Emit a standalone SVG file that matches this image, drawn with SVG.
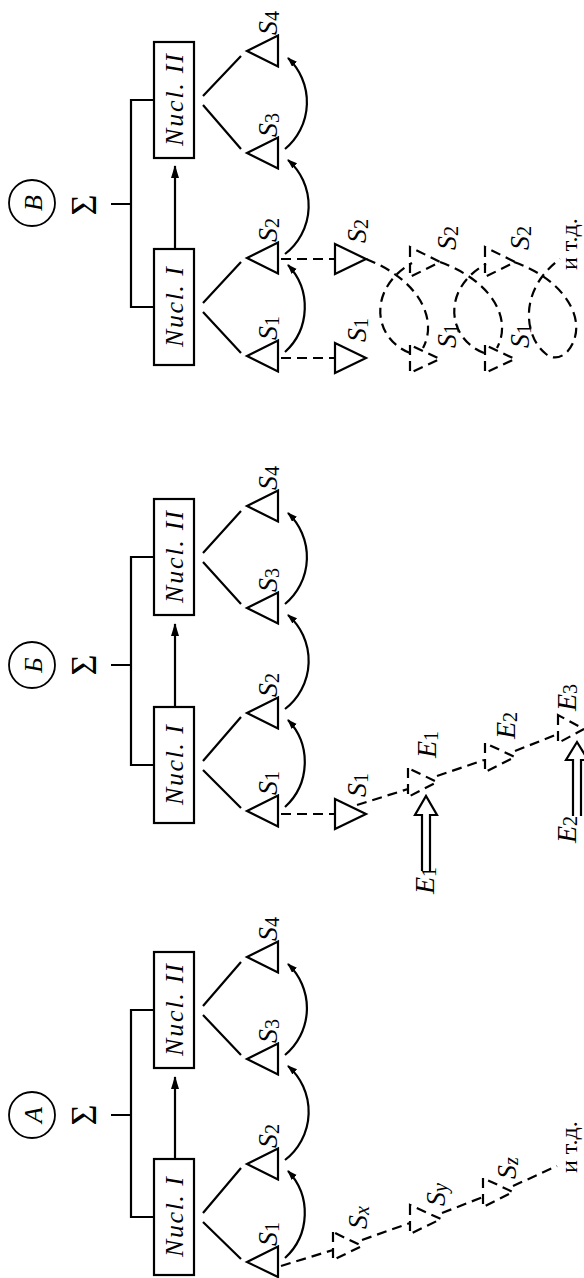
<svg xmlns="http://www.w3.org/2000/svg" width="584" height="1278" viewBox="0 0 584 1278">
<style>
.s{fill:none;stroke:#000;stroke-width:2.2}
.d{fill:none;stroke:#000;stroke-width:2.2;stroke-dasharray:10 6}
.c{fill:none;stroke:#000;stroke-width:1.8}
.it{font-family:"Liberation Serif","Times New Roman",serif;font-style:italic;fill:#000}
.lb{font-size:28px}
.sb{font-size:20px;font-style:normal}
.sbi{font-size:20px;font-style:italic}
.nu{font-size:26px;text-anchor:middle}
.cl{font-size:26px;text-anchor:middle}
.sg{font-family:"Liberation Serif","Times New Roman",serif;font-size:36px;text-anchor:middle;fill:#000}
.etc{font-family:"Liberation Serif","Times New Roman",serif;font-size:24px;fill:#000}
.ar{fill:none;stroke:#000;stroke-width:2.2;marker-end:url(#ca)}
.ab{fill:none;stroke:#000;stroke-width:2.2;marker-end:url(#ah)}
</style>
<defs>
<marker id="ah" markerUnits="userSpaceOnUse" markerWidth="14" markerHeight="10" refX="12" refY="4" orient="auto"><path d="M0,0 L13,4 L0,8 z" fill="#000"/></marker>
<marker id="ca" markerUnits="userSpaceOnUse" markerWidth="12" markerHeight="8" refX="9" refY="3.5" orient="auto"><path d="M0,0 L10,3.5 L0,7 z" fill="#000"/></marker>
</defs>

<!-- ===== Panel В (top) ===== -->
<g id="B-label"><circle cx="32" cy="203" r="23" class="c"/><text class="it cl" transform="translate(42,203) rotate(-90)">В</text></g>
<g id="B-sigma"><text class="sg" transform="translate(96,205) rotate(-90)">Σ</text></g>
<g id="B-nucl2"><rect x="154" y="42" width="40" height="116" class="s"/><text class="it nu" transform="translate(183,100) rotate(-90)" textLength="92" lengthAdjust="spacing">Nucl. II</text></g>
<g id="B-nucl1"><rect x="154" y="249" width="40" height="116" class="s"/><text class="it nu" transform="translate(183,307) rotate(-90)" textLength="80" lengthAdjust="spacing">Nucl. I</text></g>
<g id="B-s4"><polygon points="247,51 278,35.5 278,66.5" class="s"/><text class="it lb" transform="translate(277,35) rotate(-90)">S<tspan class="sb" dy="2">4</tspan></text></g>
<g id="B-s3"><polygon points="247,153 278,137.5 278,168.5" class="s"/><text class="it lb" transform="translate(277,137) rotate(-90)">S<tspan class="sb" dy="2">3</tspan></text></g>
<g id="B-s2"><polygon points="247,258 278,242.5 278,273.5" class="s"/><text class="it lb" transform="translate(277,242) rotate(-90)">S<tspan class="sb" dy="2">2</tspan></text></g>
<g id="B-s1"><polygon points="247,356 278,340.5 278,371.5" class="s"/><text class="it lb" transform="translate(277,340) rotate(-90)">S<tspan class="sb" dy="2">1</tspan></text></g>
<g id="B-s2b"><polygon points="335,244 335,274 366,259" class="s"/><text class="it lb" transform="translate(366,243) rotate(-90)">S<tspan class="sb" dy="2">2</tspan></text></g>
<g id="B-s1b"><polygon points="335,343 335,373 366,358" class="s"/><text class="it lb" transform="translate(366,342) rotate(-90)">S<tspan class="sb" dy="2">1</tspan></text></g>
<g id="B-s2c"><polygon points="410,247 410,277 440,262" class="d"/><text class="it lb" transform="translate(456,250) rotate(-90)">S<tspan class="sb" dy="2">2</tspan></text></g>
<g id="B-s1c"><polygon points="410,345 410,373 440,359" class="d"/><text class="it lb" transform="translate(456,348) rotate(-90)">S<tspan class="sb" dy="2">1</tspan></text></g>
<g id="B-s2d"><polygon points="485,247 485,277 515,262" class="d"/><text class="it lb" transform="translate(529,250) rotate(-90)">S<tspan class="sb" dy="2">2</tspan></text></g>
<g id="B-s1d"><polygon points="485,345 485,373 515,359" class="d"/><text class="it lb" transform="translate(529,348) rotate(-90)">S<tspan class="sb" dy="2">1</tspan></text></g>
<g id="B-etc"><text class="etc" transform="translate(577,270) rotate(-90)">и т.д.</text></g>

<!-- ===== Panel Б (middle) ===== -->
<g id="V-label"><circle cx="32" cy="665" r="23" class="c"/><text class="it cl" transform="translate(42,665) rotate(-90)">Б</text></g>
<g id="V-sigma"><text class="sg" transform="translate(96,665) rotate(-90)">Σ</text></g>
<g id="V-nucl2"><rect x="154" y="499" width="40" height="116" class="s"/><text class="it nu" transform="translate(183,557) rotate(-90)" textLength="92" lengthAdjust="spacing">Nucl. II</text></g>
<g id="V-nucl1"><rect x="154" y="707" width="40" height="116" class="s"/><text class="it nu" transform="translate(183,765) rotate(-90)" textLength="80" lengthAdjust="spacing">Nucl. I</text></g>
<g id="V-s4"><polygon points="247,506 278,490.5 278,521.5" class="s"/><text class="it lb" transform="translate(277,490) rotate(-90)">S<tspan class="sb" dy="2">4</tspan></text></g>
<g id="V-s3"><polygon points="247,608 278,592.5 278,623.5" class="s"/><text class="it lb" transform="translate(277,592) rotate(-90)">S<tspan class="sb" dy="2">3</tspan></text></g>
<g id="V-s2"><polygon points="247,713 278,697.5 278,728.5" class="s"/><text class="it lb" transform="translate(277,697) rotate(-90)">S<tspan class="sb" dy="2">2</tspan></text></g>
<g id="V-s1"><polygon points="247,811 278,795.5 278,826.5" class="s"/><text class="it lb" transform="translate(277,795) rotate(-90)">S<tspan class="sb" dy="2">1</tspan></text></g>
<g id="V-s1b"><polygon points="335,799 335,829 366,814" class="s"/><text class="it lb" transform="translate(366,797) rotate(-90)">S<tspan class="sb" dy="2">1</tspan></text></g>
<g id="V-e1"><polygon points="408,768 408,797 437,782" class="d"/><text class="it lb" transform="translate(436,758) rotate(-90)">E<tspan class="sb" dy="2">1</tspan></text></g>
<g id="V-e2"><polygon points="485,743 485,772 515,757" class="d"/><text class="it lb" transform="translate(515,739) rotate(-90)">E<tspan class="sb" dy="2">2</tspan></text></g>
<g id="V-e3"><polygon points="558,715 558,743 584,729" class="d"/><text class="it lb" transform="translate(576,711) rotate(-90)">E<tspan class="sb" dy="1">3</tspan></text></g>
<g id="V-in1"><text class="it lb" transform="translate(434,894) rotate(-90)">E<tspan class="sb" dy="2">1</tspan></text></g>
<g id="V-in2"><text class="it lb" transform="translate(576,843) rotate(-90)">E<tspan class="sb" dy="1">2</tspan></text></g>

<!-- ===== Panel А (bottom) ===== -->
<g id="A-label"><circle cx="32" cy="1115" r="23" class="c"/><text class="it cl" transform="translate(42,1115) rotate(-90)">А</text></g>
<g id="A-sigma"><text class="sg" transform="translate(96,1115) rotate(-90)">Σ</text></g>
<g id="A-nucl2"><rect x="154" y="952" width="40" height="116" class="s"/><text class="it nu" transform="translate(183,1010) rotate(-90)" textLength="92" lengthAdjust="spacing">Nucl. II</text></g>
<g id="A-nucl1"><rect x="154" y="1159" width="40" height="116" class="s"/><text class="it nu" transform="translate(183,1217) rotate(-90)" textLength="80" lengthAdjust="spacing">Nucl. I</text></g>
<g id="A-s4"><polygon points="247,957 278,941.5 278,972.5" class="s"/><text class="it lb" transform="translate(277,941) rotate(-90)">S<tspan class="sb" dy="2">4</tspan></text></g>
<g id="A-s3"><polygon points="247,1059 278,1043.5 278,1074.5" class="s"/><text class="it lb" transform="translate(277,1043) rotate(-90)">S<tspan class="sb" dy="2">3</tspan></text></g>
<g id="A-s2"><polygon points="247,1164 278,1148.5 278,1179.5" class="s"/><text class="it lb" transform="translate(277,1148) rotate(-90)">S<tspan class="sb" dy="2">2</tspan></text></g>
<g id="A-s1"><polygon points="247,1262 278,1246.5 278,1277" class="s"/><text class="it lb" transform="translate(277,1246) rotate(-90)">S<tspan class="sb" dy="2">1</tspan></text></g>
<g id="A-sx"><polygon points="333,1232 333,1260 362,1246" class="d"/><text class="it lb" transform="translate(367,1229) rotate(-90)">S<tspan class="sbi" dy="2">x</tspan></text></g>
<g id="A-sy"><polygon points="410,1205 410,1234 441,1219" class="d"/><text class="it lb" transform="translate(445,1206) rotate(-90)">S<tspan class="sbi" dy="2">y</tspan></text></g>
<g id="A-sz"><polygon points="483,1178 483,1207 513,1192" class="d"/><text class="it lb" transform="translate(516,1179) rotate(-90)">S<tspan class="sbi" dy="2">z</tspan></text></g>
<g id="A-etc"><text class="etc" transform="translate(577,1173) rotate(-90)">и т.д.</text></g>

<!-- ===== Connectors ===== -->
<g id="connectors">
  <!-- Panel В -->
  <path class="s" d="M111,204 H131 M154,100 H131 V307 H154"/>
  <path class="ab" d="M175,249 V166"/>
  <path class="s" d="M203,96 L241,56 M203,105 L241,149 M203,303 L241,262 M203,312 L241,353"/>
  <path class="ar" d="M285,352 A61,61 0 0 0 288,265"/>
  <path class="ar" d="M285,254 A61,61 0 0 0 288,160"/>
  <path class="ar" d="M285,149 A61,61 0 0 0 288,58"/>
  <path class="d" d="M281,358 H335 M281,259 H335"/>
  <path class="d" d="M366,259 C420,280 438,320 423,348"/>
  <path class="d" d="M410,353 C372,338 368,288 412,263"/>
  <path class="d" d="M440,262 C494,282 512,320 497,348"/>
  <path class="d" d="M484,353 C446,338 442,288 486,264"/>
  <path class="d" d="M514,262 C560,278 582,312 575,337 C570,356 555,362 546,354 C524,337 518,290 560,259"/>

  <!-- Panel Б -->
  <path class="s" d="M111,665 H131 M154,557 H131 V765 H154"/>
  <path class="ab" d="M175,707 V624"/>
  <path class="s" d="M203,553 L241,511 M203,562 L241,604 M203,761 L241,717 M203,770 L241,808"/>
  <path class="ar" d="M285,807 A61,61 0 0 0 288,720"/>
  <path class="ar" d="M285,709 A61,61 0 0 0 288,615"/>
  <path class="ar" d="M285,604 A61,61 0 0 0 288,513"/>
  <path class="d" d="M281,814 H335"/>
  <path class="d" d="M357,805 L408,789"/>
  <path class="d" d="M437,776 L484,760"/>
  <path class="d" d="M515,751 L558,734"/>
  <path class="s" d="M422,871 V815 H415 L426,796 L437,815 H430 V871"/>
  <path class="s" d="M573,816 V760 H566 L577,742 L588,760 H581 V816"/>

  <!-- Panel А -->
  <path class="s" d="M111,1115 H131 M154,1010 H131 V1217 H154"/>
  <path class="ab" d="M175,1159 V1077"/>
  <path class="s" d="M203,1006 L241,962 M203,1015 L241,1055 M203,1213 L241,1168 M203,1222 L241,1259"/>
  <path class="ar" d="M285,1258 A61,61 0 0 0 288,1171"/>
  <path class="ar" d="M285,1160 A61,61 0 0 0 288,1066"/>
  <path class="ar" d="M285,1055 A61,61 0 0 0 288,964"/>
  <path class="d" d="M281,1266 L333,1250"/>
  <path class="d" d="M362,1240 L410,1223"/>
  <path class="d" d="M442,1213 L483,1197"/>
  <path class="d" d="M513,1186 L557,1166"/>
</g>
</svg>
